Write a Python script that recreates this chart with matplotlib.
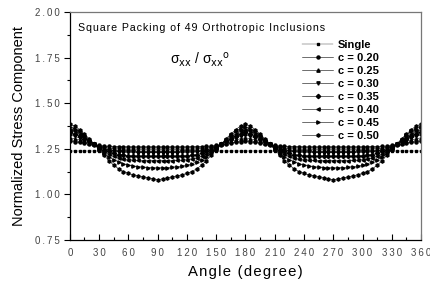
import numpy as np
import matplotlib
matplotlib.use("Agg")
import matplotlib.pyplot as plt
from matplotlib.ticker import MultipleLocator, FuncFormatter

plt.rcParams['font.family'] = ['Liberation Sans', 'DejaVu Sans']

# angles read every 5 degrees over one quarter (0..90); the curves repeat
# with mirror symmetry about 90 and a period of 180
quarter = np.arange(0, 95, 5)

single = [1.236] * 19
c20 = [1.290, 1.288, 1.285, 1.280, 1.276, 1.272, 1.268, 1.265, 1.263, 1.262,
       1.261, 1.261, 1.260, 1.260, 1.260, 1.260, 1.260, 1.260, 1.260]
c25 = [1.310, 1.305, 1.298, 1.290, 1.282, 1.275, 1.266, 1.258, 1.253, 1.250,
       1.248, 1.247, 1.246, 1.246, 1.245, 1.245, 1.245, 1.245, 1.245]
c30 = [1.325, 1.318, 1.310, 1.298, 1.285, 1.275, 1.262, 1.252, 1.243, 1.237,
       1.233, 1.231, 1.230, 1.230, 1.229, 1.229, 1.229, 1.229, 1.229]
c35 = [1.340, 1.330, 1.320, 1.305, 1.290, 1.275, 1.260, 1.245, 1.235, 1.225,
       1.218, 1.214, 1.212, 1.211, 1.210, 1.210, 1.210, 1.210, 1.210]
c40 = [1.355, 1.345, 1.330, 1.315, 1.295, 1.275, 1.255, 1.235, 1.220, 1.208,
       1.200, 1.195, 1.190, 1.188, 1.186, 1.185, 1.185, 1.185, 1.185]
c45 = [1.370, 1.360, 1.345, 1.325, 1.300, 1.275, 1.250, 1.225, 1.205, 1.190,
       1.178, 1.168, 1.160, 1.155, 1.152, 1.149, 1.147, 1.146, 1.145]
c50 = [1.385, 1.375, 1.355, 1.330, 1.305, 1.275, 1.245, 1.215, 1.185, 1.160,
       1.140, 1.125, 1.115, 1.108, 1.100, 1.095, 1.090, 1.085, 1.080]

labels = ["Single", "c = 0.20", "c = 0.25", "c = 0.30", "c = 0.35",
          "c = 0.40", "c = 0.45", "c = 0.50"]
markers = ["s", "o", "^", "v", "D", "<", ">", "h"]
sizes = [1.7, 2.2, 2.4, 2.4, 2.2, 2.4, 2.4, 2.3]
series = [single, c20, c25, c30, c35, c40, c45, c50]


def full_turn(q):
    q = list(q)
    half = q + q[-2::-1]          # 0..180
    return np.array(half + half[1:])  # 0..360


def track(s, sp='\u200a'):
    # letter spacing, the original text is loosely tracked
    return sp.join(s)


angles = np.arange(0, 365, 5)

fig = plt.figure(figsize=(4.31, 2.84), dpi=100)
ax = fig.add_axes([0.162, 0.155, 0.815, 0.803])

for vals, lab, m, ms in zip(series, labels, markers, sizes):
    lw = 0.25 if lab == "Single" else 0.4
    ax.plot(angles, full_turn(vals), color='black', lw=lw, marker=m,
            ms=ms, mec='black', mfc='black', label=lab)

ax.set_xlim(0, 360)
ax.set_ylim(0.75, 2.0)
ax.xaxis.set_major_locator(MultipleLocator(30))
ax.xaxis.set_minor_locator(MultipleLocator(15))
ax.yaxis.set_major_locator(MultipleLocator(0.25))
ax.yaxis.set_minor_locator(MultipleLocator(0.125))
ax.yaxis.set_major_formatter(FuncFormatter(lambda v, p: track(f"{v:.2f}", '\u2009')))
ax.xaxis.set_major_formatter(FuncFormatter(lambda v, p: track(f"{v:.0f}", '\u2009')))
ax.tick_params(axis='x', which='both', direction='in', top=False, pad=6)
ax.tick_params(axis='y', which='both', direction='out', right=False)
ax.tick_params(which='major', length=4, width=0.8, labelsize=7,
               labelcolor='#444444')
ax.tick_params(which='minor', length=2, width=0.8)
for s in ax.spines.values():
    s.set_linewidth(0.9)
ax.spines['right'].set_color('#777777')
ax.spines['top'].set_color('#777777')

ax.set_xlabel(track("Angle (degree)"), fontsize=10.7, labelpad=5)
ax.set_ylabel("Normalized Stress Component", fontsize=10.5, labelpad=6)

ax.text(0.022, 0.93, track("Square Packing of 49 Orthotropic Inclusions"),
        transform=ax.transAxes, fontsize=7.7, va='center', ha='left')
ax.text(0.285, 0.79, r"σ$_{\rm xx}$ / σ$_{\rm xx}$$^{\rm o}$",
        transform=ax.transAxes, fontsize=10, va='center', ha='left',
        math_fontfamily='dejavusans')

leg = ax.legend(loc='upper left', bbox_to_anchor=(0.661, 0.876),
                frameon=False, prop={'size': 8, 'weight': 'bold'},
                handlelength=2.8, handletextpad=0.45, labelspacing=0.27,
                borderpad=0, borderaxespad=0)

fig.savefig("out.png", dpi=100)
